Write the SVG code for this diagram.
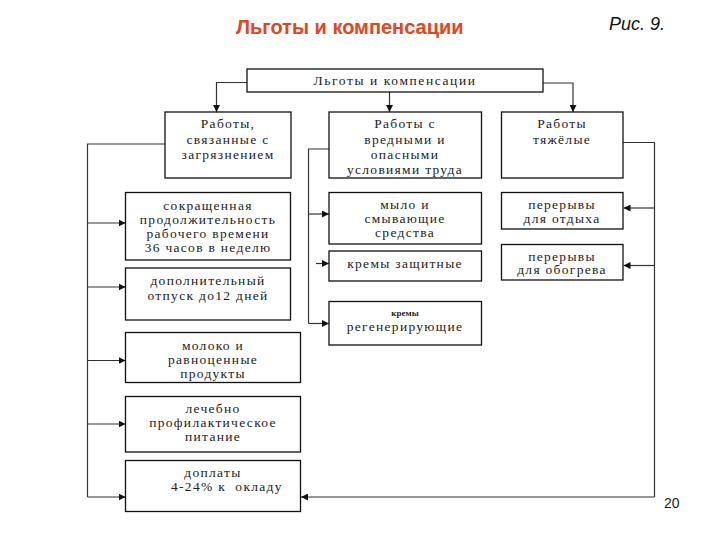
<svg xmlns="http://www.w3.org/2000/svg" width="720" height="540" viewBox="0 0 720 540">
<style>
.box{fill:#fff;stroke:#111;stroke-width:1.3}
.t{font-family:"Liberation Serif","Times New Roman",serif;font-size:13.5px;letter-spacing:1.3px;fill:#222;text-anchor:middle;dominant-baseline:central}
.ln{fill:none;stroke:#333;stroke-width:1.2}
.title{font-family:"Liberation Sans",Arial,sans-serif;font-size:20px;font-weight:bold;fill:#E2471E}
.fig{font-family:"Liberation Sans",Arial,sans-serif;font-size:18px;font-style:italic;fill:#111}
</style>
<defs>
<marker id="ah" viewBox="0 0 10 10" refX="10" refY="5" markerWidth="7" markerHeight="7" markerUnits="userSpaceOnUse" orient="auto">
<path d="M0,0 L10,5 L0,10 z" fill="#111"/>
</marker>
</defs>
<text class="title" x="236" y="34">Льготы и компенсации</text>
<text class="fig" x="609" y="30">Рис. 9.</text>
<text x="664" y="508" font-family="'Liberation Sans',Arial,sans-serif" font-size="14" fill="#222">20</text>

<g id="connectors">
<path class="ln" d="M247,82.5 H216.5 V112" marker-end="url(#ah)"/>
<path class="ln" d="M389.5,92 V112" marker-end="url(#ah)"/>
<path class="ln" d="M543,83 H573 V112" marker-end="url(#ah)"/>
<path class="ln" d="M165,144 H87.5 V497"/>
<path class="ln" d="M87.5,223 H125.5" marker-end="url(#ah)"/>
<path class="ln" d="M87.5,287 H125.5" marker-end="url(#ah)"/>
<path class="ln" d="M87.5,360.5 H125.5" marker-end="url(#ah)"/>
<path class="ln" d="M87.5,424 H125.5" marker-end="url(#ah)"/>
<path class="ln" d="M87.5,497 H125.5" marker-end="url(#ah)"/>
<path class="ln" d="M329,149 H308.5 V323.5"/>
<path class="ln" d="M308.5,214 H329" marker-end="url(#ah)"/>
<path class="ln" d="M316,263.5 H329" marker-end="url(#ah)"/>
<path class="ln" d="M308.5,323.5 H329" marker-end="url(#ah)"/>
<path class="ln" d="M623,142.5 H654.5 V497"/>
<path class="ln" d="M654.5,208 H623.5" marker-end="url(#ah)"/>
<path class="ln" d="M654.5,265.5 H623.5" marker-end="url(#ah)"/>
<path class="ln" d="M654.5,497 H301" marker-end="url(#ah)"/>
</g>

<g id="root">
<rect class="box" x="247" y="69" width="296" height="23"/>
<text class="t" x="395" y="80.5" style="letter-spacing:1.6px">Льготы и компенсации</text>
</g>

<g id="pollution">
<rect class="box" x="165" y="112" width="126" height="66"/>
<text class="t" x="228" y="123">Работы,</text>
<text class="t" x="228" y="139">связанные с</text>
<text class="t" x="228" y="154">загрязнением</text>
</g>
<g id="harmful">
<rect class="box" x="329" y="112" width="152.5" height="66"/>
<text class="t" x="405" y="123">Работы с</text>
<text class="t" x="405" y="139">вредными и</text>
<text class="t" x="405" y="154">опасными</text>
<text class="t" x="405" y="169">условиями труда</text>
</g>
<g id="heavy">
<rect class="box" x="501.5" y="112" width="121.5" height="66"/>
<text class="t" x="562" y="123">Работы</text>
<text class="t" x="562" y="139">тяжёлые</text>
</g>

<g id="shorter">
<rect class="box" x="125.5" y="192.5" width="165" height="67.5"/>
<text class="t" x="208" y="205">сокращенная</text>
<text class="t" x="208" y="219">продолжительность</text>
<text class="t" x="208" y="233">рабочего времени</text>
<text class="t" x="208" y="247">36 часов в неделю</text>
</g>
<g id="leave">
<rect class="box" x="125.5" y="268" width="165" height="52"/>
<text class="t" x="208" y="280.5">дополнительный</text>
<text class="t" x="208" y="295">отпуск до12 дней</text>
</g>
<g id="milk">
<rect class="box" x="125.5" y="332.5" width="175" height="50"/>
<text class="t" x="213" y="345">молоко и</text>
<text class="t" x="213" y="359">равноценные</text>
<text class="t" x="213" y="373">продукты</text>
</g>
<g id="food">
<rect class="box" x="125.5" y="396.5" width="175" height="55.5"/>
<text class="t" x="213" y="408">лечебно</text>
<text class="t" x="213" y="422">профилактическое</text>
<text class="t" x="213" y="436">питание</text>
</g>
<g id="bonus">
<rect class="box" x="125.5" y="460.5" width="175" height="51"/>
<text class="t" x="213" y="472">доплаты</text>
<text class="t" x="171" y="486" style="text-anchor:start;white-space:pre">4-24% к  окладу</text>
</g>

<g id="soap">
<rect class="box" x="329" y="192.5" width="152.5" height="51.5"/>
<text class="t" x="405" y="204">мыло и</text>
<text class="t" x="405" y="218">смывающие</text>
<text class="t" x="405" y="232.5">средства</text>
</g>
<g id="cream1">
<rect class="box" x="329" y="251" width="152.5" height="30"/>
<text class="t" x="405" y="263">кремы защитные</text>
</g>
<g id="cream2">
<rect class="box" x="329" y="301.5" width="152.5" height="43.5"/>
<text class="t" x="405" y="313" style="font-size:9px;font-weight:bold;letter-spacing:0">кремы</text>
<text class="t" x="405" y="326">регенерирующие</text>
</g>

<g id="rest">
<rect class="box" x="501.5" y="192.5" width="121.5" height="36.5"/>
<text class="t" x="562" y="204.5">перерывы</text>
<text class="t" x="562" y="218.5">для отдыха</text>
</g>
<g id="warm">
<rect class="box" x="501.5" y="244.5" width="121.5" height="35.5"/>
<text class="t" x="562" y="256">перерывы</text>
<text class="t" x="562" y="269.5">для обогрева</text>
</g>
</svg>
